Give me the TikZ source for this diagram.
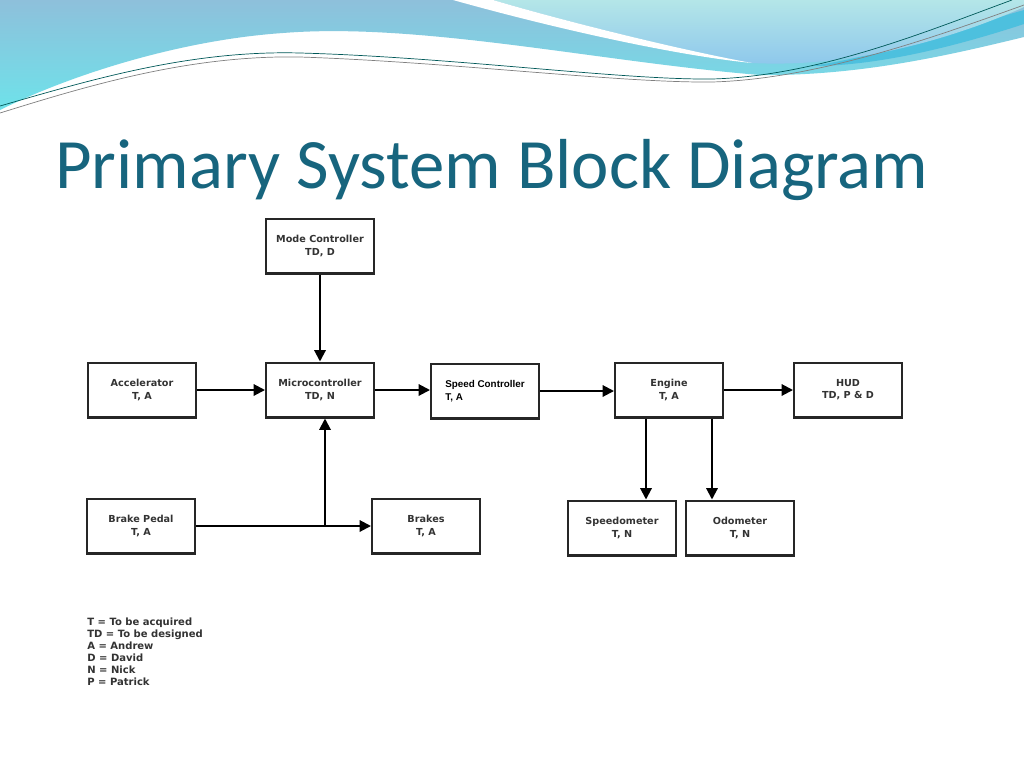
\documentclass[tikz,border=0pt]{standalone}
\usepackage{fontspec}
\setmainfont{DejaVu Sans}
\newfontfamily\titlefont{Carlito}
\newfontfamily\arialfont{Liberation Sans}
\usetikzlibrary{arrows.meta}
\definecolor{titleteal}{HTML}{17657E}
\definecolor{wavetop}{HTML}{8EC0DB}
\definecolor{wavebot}{HTML}{6EE2EA}
\definecolor{lighttop}{HTML}{B4E6E8}
\definecolor{lightbot}{HTML}{8CC6EC}
\definecolor{bandcyan}{HTML}{4DC0DE}

\begin{document}
\begin{tikzpicture}[x=0.02cm,y=-0.02cm,
    block/.style={draw=black!85,line width=1.15pt,minimum width=2.16cm,minimum height=1.1cm,
      inner sep=0pt,align=center,text=black!80,font=\bfseries\fontsize{5.5}{6.9}\selectfont},
    conn/.style={line width=1.15pt,-{Triangle[length=6.5pt,width=6.5pt]}}]
  \useasboundingbox (0,0) rectangle (1024,768);
  \fill[white] (0,0) rectangle (1024,768);
  \shade[top color=wavetop,bottom color=wavebot] (0,0) -- (1024,0) -- (1024,37)
    .. controls (950,55) and (860,76) .. (760,75)
    .. controls (600,62) and (420,22) .. (283,33)
    .. controls (180,40) and (70,75) .. (0,110) -- cycle;
  \fill[bandcyan] (1024,10) .. controls (970,25) and (900,52) .. (812,66)
    .. controls (880,66) and (960,45) .. (1024,24) -- cycle;
  \shade[top color=lighttop,bottom color=lightbot] (493,0)
    .. controls (560,20) and (680,50) .. (752,63)
    .. controls (850,68) and (950,40) .. (1024,7) -- (1024,0) -- cycle;
  \fill[white] (453,0) .. controls (560,30) and (680,56) .. (752,63)
    .. controls (680,50) and (560,20) .. (493,0) -- cycle;
  \draw[teal!70!black,line width=0.4pt] (0,106) .. controls (90,80) and (190,50) .. (300,53)
    .. controls (450,57) and (620,80) .. (712,79) .. controls (820,76) and (930,30) .. (1012,0);
  \draw[gray,line width=0.4pt] (0,113) .. controls (90,85) and (190,55) .. (300,57)
    .. controls (450,62) and (620,83) .. (712,82) .. controls (820,79) and (940,35) .. (1024,5);

  \node[anchor=base west,inner sep=0pt,text=titleteal,font=\titlefont\fontsize{40.3}{44}\selectfont] (title) at (55,188) {Primary System Block Diagram};

  \node[block] (mode) at (320,246) {Mode Controller\\TD, D};
  \node[block] (accel) at (142,390) {Accelerator\\T, A};
  \node[block] (micro) at (320,390) {Microcontroller\\TD, N};
  \node[block,align=left,text=black,font=\arialfont\bfseries\fontsize{5.6}{7.4}\selectfont] (speed) at (485,391) {Speed Controller\\T, A};
  \node[block] (engine) at (669,390) {Engine\\T, A};
  \node[block] (hud) at (848,390) {HUD\\TD, P \& D};
  \node[block] (pedal) at (141,526) {Brake Pedal\\T, A};
  \node[block] (brakes) at (426,526) {Brakes\\T, A};
  \node[block] (speedo) at (622,528) {Speedometer\\T, N};
  \node[block] (odo) at (740,528) {Odometer\\T, N};
  \coordinate (junc) at (325,526);

  \draw[conn] (mode.south) -- (mode.south |- micro.north);
  \draw[conn] (accel.east) -- (accel.east -| micro.west);
  \draw[conn] (micro.east) -- (micro.east -| speed.west);
  \draw[conn] (speed.east) -- (speed.east -| engine.west);
  \draw[conn] (engine.east) -- (engine.east -| hud.west);
  \draw[conn] (pedal.east) -- (pedal.east -| brakes.west);
  \draw[conn] (junc) -- (junc |- micro.south);
  \draw[conn] ([xshift=-0.46cm]engine.south) -- ([xshift=-0.46cm]engine.south |- speedo.north);
  \draw[conn] ([xshift=0.86cm]engine.south) -- ([xshift=0.86cm]engine.south |- odo.north);

  \node[anchor=north west,inner sep=0pt,align=left,text=black!80,font=\bfseries\fontsize{5.7}{6.8}\selectfont] (legend) at (87,618)
    {T = To be acquired\\TD = To be designed\\A = Andrew\\D = David\\N = Nick\\P = Patrick};
\end{tikzpicture}
\end{document}
